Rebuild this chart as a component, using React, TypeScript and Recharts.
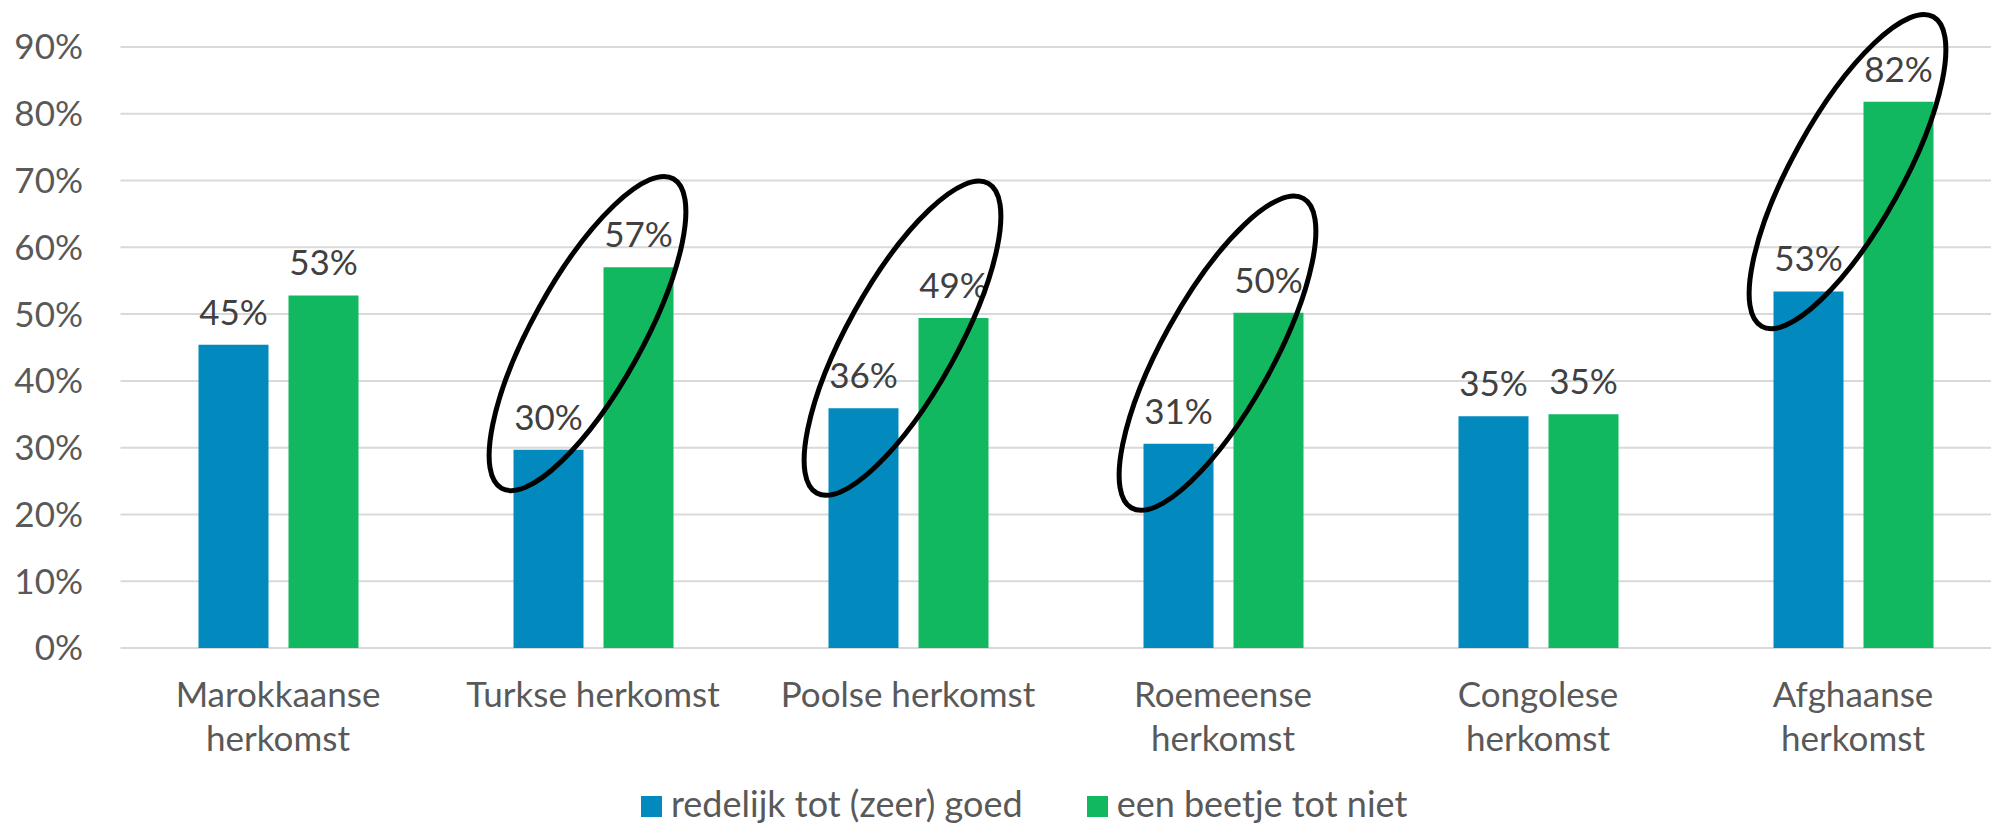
import React from 'react';
import { BarChart, Bar, XAxis, YAxis, CartesianGrid, LabelList, Legend } from 'recharts';

const categories = [
  'Marokkaanse herkomst',
  'Turkse herkomst',
  'Poolse herkomst',
  'Roemeense herkomst',
  'Congolese herkomst',
  'Afghaanse herkomst',
];
const categoryLabelLines = [
  ['Marokkaanse', 'herkomst'],
  ['Turkse herkomst'],
  ['Poolse herkomst'],
  ['Roemeense', 'herkomst'],
  ['Congolese', 'herkomst'],
  ['Afghaanse', 'herkomst'],
];
const goedValues = [45.4, 29.7, 35.9, 30.6, 34.7, 53.4];
const nietValues = [52.8, 57.0, 49.4, 50.2, 35.0, 81.8];
const highlightedCategories = ['Turkse herkomst', 'Poolse herkomst', 'Roemeense herkomst', 'Afghaanse herkomst'];
const yTicks = [0, 10, 20, 30, 40, 50, 60, 70, 80, 90];
const seriesNames = ['redelijk tot (zeer) goed', 'een beetje tot niet'];

const BLUE = '#0289BD';
const GREEN = '#12B85F';
const AXIS_TEXT = '#595959';
const LABEL_TEXT = '#404040';
const FONT = 'Lato, "Noto Sans", sans-serif';
const FONT_SIZE = 35;
const LEGEND_FONT_SIZE = 36;
const BAR_SIZE = 70;
const BAR_GAP = 20;

const data = categories.map((c, i) => ({
  category: c,
  goed: goedValues[i],
  niet: nietValues[i],
}));

const XTick = (props: any) => {
  const { x, y, payload } = props;
  const idx = categories.indexOf(payload.value);
  const lines = idx >= 0 ? categoryLabelLines[idx] : [String(payload.value)];
  return (
    <text x={x} y={y} textAnchor="middle" fill={AXIS_TEXT} fontSize={FONT_SIZE} fontFamily={FONT}>
      {lines.map((l, i) => (
        <tspan key={i} x={x} dy={i === 0 ? 59 : 44}>
          {l}
        </tspan>
      ))}
    </text>
  );
};

const EllipseMark = (props: any) => {
  const vb = props.viewBox && props.viewBox.width !== undefined ? props.viewBox : props;
  const { x, y, width, height } = vb;
  let index = props.index;
  if (index === undefined || index === null) index = nietValues.indexOf(props.value);
  if (index < 0 || index === undefined) return null;
  if (!highlightedCategories.includes(categories[index])) return null;
  const g = nietValues[index];
  const b = goedValues[index];
  const base = y + height;
  const ppu = height / g;
  const blueTop = base - b * ppu;
  const gx = x + width / 2;
  const bx = x - BAR_GAP - width / 2;
  const cx = (gx + bx) / 2 - 6;
  const cy = (blueTop + y) / 2 - 25;
  return (
    <ellipse
      cx={cx}
      cy={cy}
      rx={177}
      ry={55}
      transform={`rotate(-61 ${cx} ${cy})`}
      fill="none"
      stroke="#000"
      strokeWidth={5}
    />
  );
};

const LegendContent = () => (
  <div style={{ display: 'flex', alignItems: 'flex-start', fontFamily: FONT, fontSize: LEGEND_FONT_SIZE, color: AXIS_TEXT, lineHeight: '36px', whiteSpace: 'nowrap' }}>
    {seriesNames.map((n, i) => (
      <div key={n} style={{ display: 'flex', alignItems: 'flex-start', marginRight: i === 0 ? 64 : 0 }}>
        <div style={{ width: 21, height: 21, background: i === 0 ? BLUE : GREEN, marginTop: 11, marginRight: 9 }} />
        <span>{n}</span>
      </div>
    ))}
  </div>
);

export default function App() {
  return (
    <div style={{ position: 'absolute', left: 0, top: 0, width: 1991, height: 826, overflow: 'hidden', background: '#fff', fontFamily: FONT }}>
      <BarChart
        width={2040}
        height={826}
        data={data}
        margin={{ top: 47, right: 29.5, bottom: 0, left: 0 }}
        barSize={BAR_SIZE}
        barGap={BAR_GAP}
      >
        <CartesianGrid vertical={false} stroke="#D9D9D9" strokeWidth={2} />
        <XAxis
          dataKey="category"
          height={178}
          axisLine={false}
          tickLine={false}
          tickSize={0}
          tickMargin={0}
          interval={0}
          tick={<XTick />}
        />
        <YAxis
          domain={[0, 90]}
          ticks={yTicks}
          width={120.5}
          axisLine={false}
          tickLine={false}
          tickSize={0}
          tickMargin={37.5}
          tickFormatter={(v: number) => `${v}%`}
          tick={{ fill: AXIS_TEXT, fontSize: FONT_SIZE, fontFamily: FONT }}
        />
        <Legend
          layout="horizontal"
          verticalAlign="middle"
          align="center"
          wrapperStyle={{ top: 785, left: 641, width: 1000, height: 40 }}
          content={<LegendContent />}
        />
        <Bar dataKey="goed" name={seriesNames[0]} fill={BLUE} isAnimationActive={false}>
          <LabelList
            dataKey="goed"
            position="top"
            offset={20}
            formatter={(v: any) => `${Math.round(Number(v))}%`}
            fill={LABEL_TEXT}
            fontSize={FONT_SIZE}
            fontFamily={FONT}
          />
        </Bar>
        <Bar dataKey="niet" name={seriesNames[1]} fill={GREEN} isAnimationActive={false}>
          <LabelList
            dataKey="niet"
            position="top"
            offset={20}
            formatter={(v: any) => `${Math.round(Number(v))}%`}
            fill={LABEL_TEXT}
            fontSize={FONT_SIZE}
            fontFamily={FONT}
          />
          <LabelList dataKey="niet" content={<EllipseMark />} />
        </Bar>
      </BarChart>
    </div>
  );
}
